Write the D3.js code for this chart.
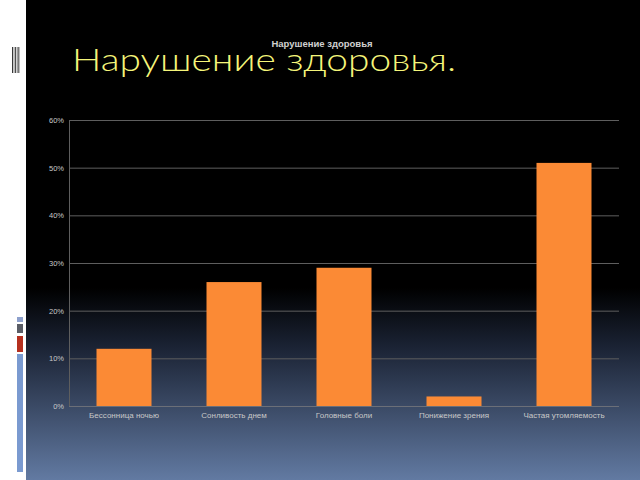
<!DOCTYPE html>
<html><head><meta charset="utf-8">
<script src="https://cdn.jsdelivr.net/npm/d3@7"></script>
<style>html,body{margin:0;padding:0;background:#fff;}svg{display:block;}</style>
</head><body>
<svg id="c" width="640" height="480"></svg>
<script>
const categories = ["Бессонница ночью","Сонливость днем","Головные боли","Понижение зрения","Частая утомляемость"];
const values = [12, 26, 29, 2, 51];
const yTicks = [0, 10, 20, 30, 40, 50, 60];
const chartTitle = "Нарушение здоровья";
const slideTitle = "Нарушение здоровья.";

const svg = d3.select("#c");
const defs = svg.append("defs");
const g = defs.append("linearGradient").attr("id","bg").attr("x1",0).attr("y1",0).attr("x2",0).attr("y2",1);
g.append("stop").attr("offset","0").attr("stop-color","#000");
g.append("stop").attr("offset","0.6").attr("stop-color","#000");
g.append("stop").attr("offset","0.72").attr("stop-color","#1a2233");
g.append("stop").attr("offset","1").attr("stop-color","#627aa2");
svg.append("rect").attr("x",26).attr("y",0).attr("width",614).attr("height",480).attr("fill","url(#bg)");

// left decorations
const stripes = svg.append("g");
for (let i=0;i<5;i++){
  stripes.append("rect").attr("x",12+i*1.6).attr("y",47).attr("width",0.9).attr("height",26).attr("fill", i%2? "#777":"#222");
}
const deco = [["#8da0cc",317,5],["#5a5d66",324,9],["#b5301f",336,16],["#7a9ad0",354,118]];
deco.forEach(d=>svg.append("rect").attr("x",17).attr("y",d[1]).attr("width",6).attr("height",d[2]).attr("fill",d[0]));

// slide title
svg.append("text").attr("x",72).attr("y",71).attr("fill","#f5f57a")
  .attr("font-family","Lato, 'DejaVu Sans', sans-serif").attr("font-weight",300)
  .attr("font-size",32).attr("textLength",384).attr("lengthAdjust","spacingAndGlyphs").text(slideTitle);

// chart title
svg.append("text").attr("x",322).attr("y",47).attr("text-anchor","middle").attr("fill","#d0d0d0")
  .attr("font-family","'Liberation Sans', Arial, sans-serif").attr("font-weight","bold").attr("font-size",9.5).text(chartTitle);

const x0=69, x1=619, yTop=120, yBot=406;
const x = d3.scaleBand().domain(categories).range([x0,x1]).paddingInner(0.5).paddingOuter(0.25);
const y = d3.scaleLinear().domain([0,60]).range([yBot,yTop]);

// gridlines
svg.append("g").selectAll("line").data(yTicks).join("line")
  .attr("x1",x0).attr("x2",x1).attr("y1",d=>y(d)+0.5).attr("y2",d=>y(d)+0.5)
  .attr("stroke",d=>d===0?"#6b6f78":"#5e5e5e").attr("stroke-width",1);
svg.append("line").attr("x1",x0+0.5).attr("x2",x0+0.5).attr("y1",yTop).attr("y2",yBot).attr("stroke","#5e5e5e");

// bars
svg.append("g").selectAll("rect").data(values).join("rect")
  .attr("x",(d,i)=>x(categories[i])).attr("width",x.bandwidth())
  .attr("y",d=>y(d)).attr("height",d=>yBot-y(d)).attr("fill","#fb8a35");

// y tick labels
const yAxis = d3.axisLeft(y).tickValues(yTicks).tickFormat(d=>d+"%").tickSize(0).tickPadding(5);
const ya = svg.append("g").attr("transform",`translate(${x0},0)`).call(yAxis);
ya.select(".domain").remove();
ya.selectAll("text").attr("fill","#c8c8c8").attr("font-size",7.5).attr("font-family","'Liberation Sans', Arial, sans-serif");

// x labels
const xAxis = d3.axisBottom(x).tickSize(0).tickPadding(6);
const xa = svg.append("g").attr("transform",`translate(0,${yBot})`).call(xAxis);
xa.select(".domain").remove();
xa.selectAll("text").attr("fill","#c8c8c8").attr("font-size",8).attr("font-family","'Liberation Sans', Arial, sans-serif");
</script>
</body></html>
